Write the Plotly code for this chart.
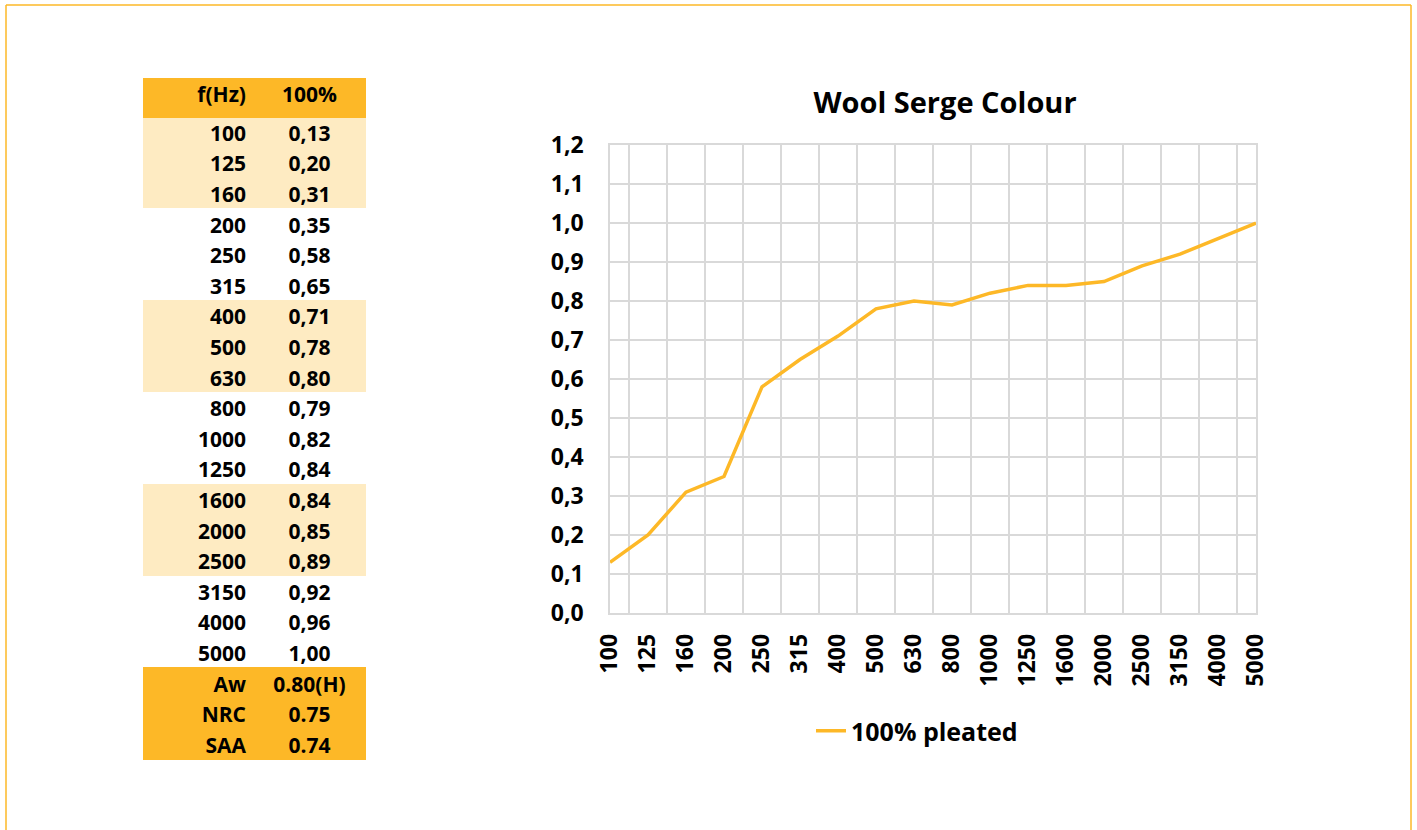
import plotly.graph_objects as go

W, H = 1417, 830

freqs = ["100", "125", "160", "200", "250", "315", "400", "500", "630", "800",
         "1000", "1250", "1600", "2000", "2500", "3150", "4000", "5000"]
alpha = [0.13, 0.20, 0.31, 0.35, 0.58, 0.65, 0.71, 0.78, 0.80, 0.79,
         0.82, 0.84, 0.84, 0.85, 0.89, 0.92, 0.96, 1.00]
rating_names = ["Aw", "NRC", "SAA"]
rating_values = ["0.80(H)", "0.75", "0.74"]
header = ["f(Hz)", "100%"]
series_name = "100% pleated"
title = "Wool Serge Colour"
yticks = [0.0, 0.1, 0.2, 0.3, 0.4, 0.5, 0.6, 0.7, 0.8, 0.9, 1.0, 1.1, 1.2]

ORANGE = "#FDB827"
LIGHT = "#FEEBC2"
FONT = "Open Sans"

def px(x):
    return x / W

def py(y):
    return 1 - y / H

col1 = freqs + rating_names
col2 = [f"{v:.2f}".replace(".", ",") for v in alpha] + rating_values
row_fill = []
for i in range(len(freqs)):
    row_fill.append(LIGHT if (i // 3) % 2 == 0 else "white")
row_fill += [ORANGE] * len(rating_names)

fig = go.Figure()

fig.add_trace(go.Table(
    domain=dict(x=[px(143), px(365)], y=[py(765), py(78)]),
    columnwidth=[111, 111],
    header=dict(values=header, fill_color=ORANGE, align=["right", "center"],
                height=39, line=dict(color=ORANGE, width=1),
                font=dict(family=FONT, size=21, color="black", weight="bold")),
    cells=dict(values=[col1, col2], fill_color=[row_fill, row_fill],
               align=["right", "center"], height=30.6,
               line=dict(color=[row_fill, row_fill], width=1),
               font=dict(family=FONT, size=21, color="black", weight="bold")),
))

fig.add_trace(go.Scatter(
    x=freqs, y=alpha, mode="lines", name=series_name,
    line=dict(color=ORANGE, width=3.5),
))

fig.update_layout(
    width=W, height=H,
    margin=dict(l=0, r=0, t=0, b=0, autoexpand=False),
    paper_bgcolor="white", plot_bgcolor="white",
    separators=",.",
    title=dict(text=title, x=px(945), xanchor="center", y=py(103), yanchor="middle",
               font=dict(family=FONT, size=29, color="black", weight="bold")),
    showlegend=True,
    legend=dict(orientation="h", x=px(917), xanchor="center", y=py(731), yanchor="middle",
                font=dict(family=FONT, size=25, color="black", weight="bold")),
    xaxis=dict(domain=[px(610), px(1256)], type="category", tickangle=-90,
               showgrid=True, gridcolor="#D9D9D9", gridwidth=1.5,
               tickson="boundaries", ticks="", showline=True, linecolor="#D9D9D9",
               linewidth=1.5, mirror=True, ticklabelstandoff=10,
               tickfont=dict(family=FONT, size=23, color="black", weight="bold")),
    yaxis=dict(domain=[py(613), py(145)], range=[0, 1.2], tickvals=yticks,
               tickformat=".1f", showgrid=True, gridcolor="#D9D9D9", gridwidth=1.5,
               showline=True, linecolor="#D9D9D9", linewidth=1.5, mirror=True,
               zeroline=False, ticks="", ticklabelstandoff=20,
               tickfont=dict(family=FONT, size=23, color="black", weight="bold")),
    shapes=[
        dict(type="line", xref="paper", yref="paper", x0=px(6), x1=px(1411), y0=py(5), y1=py(5),
             line=dict(color=ORANGE, width=1.5)),
        dict(type="line", xref="paper", yref="paper", x0=px(6), x1=px(6), y0=py(5), y1=0,
             line=dict(color=ORANGE, width=1.5)),
        dict(type="line", xref="paper", yref="paper", x0=px(1411), x1=px(1411), y0=py(5), y1=0,
             line=dict(color=ORANGE, width=1.5)),
    ],
)

fig.write_html("out.html", config={"displayModeBar": False},
               post_script="document.body.style.margin='0';document.body.style.overflow='hidden';")
